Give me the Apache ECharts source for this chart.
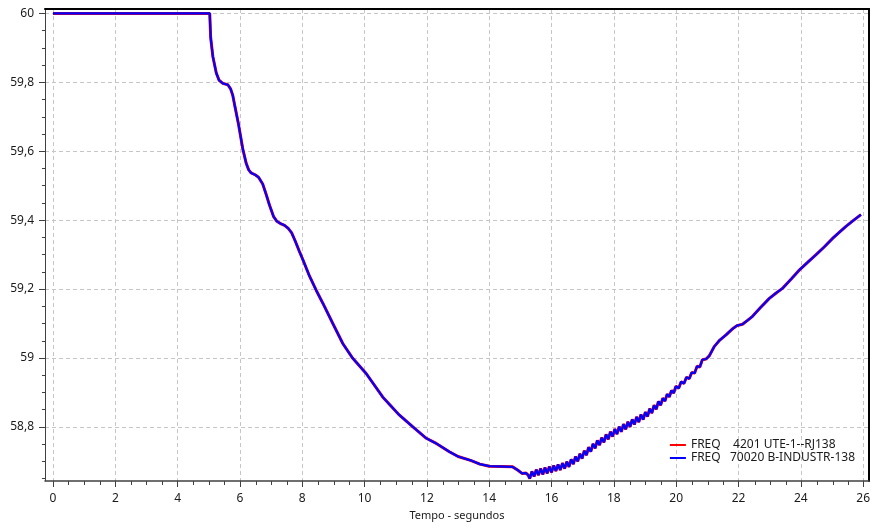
<!DOCTYPE html>
<html>
<head>
<meta charset="utf-8">
<script src="https://cdn.jsdelivr.net/npm/echarts@6/dist/echarts.min.js"></script>
<style>
html,body{margin:0;padding:0;background:#fff;}
#chart{width:873px;height:528px;}
</style>
</head>
<body>
<div id="chart"></div>
<script>
// ---- data ----
const tempo = [
  0, 5.03, 5.06, 5.13, 5.24, 5.33, 5.45, 5.61, 5.70, 5.77, 5.85, 5.95, 6.09,
  6.20, 6.28, 6.36, 6.50, 6.60, 6.73, 6.84, 6.95, 7.08, 7.18, 7.30, 7.43, 7.55,
  7.66, 7.78, 7.90, 8.02, 8.23, 8.45, 8.66, 8.98, 9.30, 9.62, 10.05, 10.58,
  11.12, 11.55, 11.98, 12.30, 12.72, 13.00, 13.40, 13.70, 14.00, 14.75, 14.91,
  15.05, 15.18, 15.25,
  15.30, 15.37, 15.44, 15.51, 15.58, 15.65, 15.72, 15.79, 15.86, 15.93,
  16.00, 16.07, 16.14, 16.21, 16.28, 16.35, 16.42, 16.49, 16.56, 16.63,
  16.70, 16.77, 16.84, 16.91, 16.98, 17.05, 17.12, 17.19, 17.26, 17.33,
  17.40, 17.47, 17.54, 17.61, 17.68, 17.75, 17.82, 17.89, 17.96, 18.03,
  18.10, 18.17, 18.24, 18.31, 18.38, 18.45, 18.52, 18.59, 18.66, 18.73,
  18.80, 18.87, 18.94, 19.01, 19.08, 19.15, 19.22, 19.29, 19.36, 19.43,
  19.50, 19.57, 19.64, 19.71, 19.78, 19.85, 19.92, 19.99,
  20.08, 20.16, 20.25, 20.33, 20.42, 20.50, 20.59, 20.67, 20.76, 20.84,
  20.96, 21.06, 21.22, 21.40, 21.60, 21.80, 21.95, 22.13, 22.30, 22.45, 22.70,
  22.99, 23.20, 23.41, 23.70, 23.95, 24.20, 24.48, 24.75, 25.02, 25.25, 25.45,
  25.70, 25.93
];
const freq = [
  60, 60, 59.93, 59.875, 59.827, 59.806, 59.797, 59.793, 59.781, 59.762, 59.725, 59.68, 59.607,
  59.565, 59.546, 59.537, 59.531, 59.524, 59.505, 59.475, 59.443, 59.410, 59.397, 59.390, 59.385, 59.376,
  59.363, 59.338, 59.311, 59.285, 59.238, 59.196, 59.159, 59.100, 59.042, 58.999, 58.955, 58.887,
  58.834, 58.800, 58.767, 58.752, 58.728, 58.714, 58.703, 58.692, 58.686, 58.684, 58.675,
  58.665, 58.666, 58.660,
  58.650, 58.671, 58.656, 58.676, 58.660, 58.679, 58.662, 58.682, 58.665, 58.685,
  58.668, 58.688, 58.672, 58.691, 58.675, 58.695, 58.679, 58.699, 58.684, 58.706,
  58.692, 58.714, 58.700, 58.722, 58.708, 58.731, 58.718, 58.741, 58.728, 58.751,
  58.738, 58.761, 58.747, 58.769, 58.755, 58.778, 58.764, 58.786, 58.772, 58.794,
  58.779, 58.801, 58.786, 58.808, 58.793, 58.815, 58.800, 58.822, 58.807, 58.829,
  58.814, 58.836, 58.821, 58.843, 58.830, 58.853, 58.840, 58.863, 58.851, 58.874,
  58.863, 58.883, 58.875, 58.895, 58.887, 58.906, 58.898, 58.918,
  58.912, 58.931, 58.926, 58.944, 58.940, 58.958, 58.956, 58.976, 58.974, 58.995,
  58.997, 59.006, 59.033, 59.052, 59.067, 59.084, 59.094, 59.098, 59.110, 59.121, 59.146,
  59.173, 59.188, 59.202, 59.230, 59.255, 59.276, 59.299, 59.322, 59.347, 59.366, 59.382,
  59.400, 59.416
];
const seriesNames = ['FREQ    4201 UTE-1--RJ138', 'FREQ   70020 B-INDUSTR-138'];
const seriesColors = ['#ff0000', '#0000ff'];
const xMajorTicks = [0, 2, 4, 6, 8, 10, 12, 14, 16, 18, 20, 22, 24, 26];
const xMinorTicks = [0.5, 1, 1.5, 2.5, 3, 3.5, 4.5, 5, 5.5, 6.5, 7, 7.5, 8.5, 9, 9.5,
  10.5, 11, 11.5, 12.5, 13, 13.5, 14.5, 15, 15.5, 16.5, 17, 17.5, 18.5, 19, 19.5,
  20.5, 21, 21.5, 22.5, 23, 23.5, 24.5, 25, 25.5];
const yMajorTicks = [58.8, 59, 59.2, 59.4, 59.6, 59.8, 60];
const yMinorTicks = [58.65, 58.7, 58.75, 58.85, 58.9, 58.95, 59.05, 59.1, 59.15,
  59.25, 59.3, 59.35, 59.45, 59.5, 59.55, 59.65, 59.7, 59.75, 59.85, 59.9, 59.95];
const xName = 'Tempo - segundos';

// ---- chart ----
const X_MIN = -0.257, X_MAX = 26.19, Y_MIN = 58.643, Y_MAX = 60.0128;
const FONT = 'Noto Sans';
const pts = tempo.map((t, i) => [t, freq[i]]);
const gridBox = {left: 45, right: 3, top: 9, bottom: 47};
const chart = echarts.init(document.getElementById('chart'), null, {renderer: 'canvas'});
const gridLine = {show: true, lineStyle: {color: '#c6c6c6', width: 1, type: [4, 3]}};
const option = {
  animation: false,
  backgroundColor: '#fff',
  textStyle: {fontFamily: FONT},
  grid: [Object.assign({}, gridBox), Object.assign({}, gridBox)],
  legend: {
    orient: 'vertical', right: 18, bottom: 64, padding: 0, itemGap: 1,
    itemWidth: 16, itemHeight: 14,
    textStyle: {fontFamily: FONT, fontSize: 12, color: '#1a1a1a', padding: [0, 0, 0, 0]},
    data: seriesNames.map(n => ({name: n, icon: 'path://M0,6 L16,6 L16,8 L0,8 Z'}))
  },
  xAxis: [
    {
      gridIndex: 0, type: 'value', position: 'bottom', min: X_MIN, max: X_MAX,
      name: xName, nameLocation: 'middle', nameGap: 29,
      nameTextStyle: {fontFamily: FONT, fontSize: 11, color: '#1a1a1a'},
      axisLine: {show: true, onZero: false, lineStyle: {color: '#404040', width: 1.5}},
      axisTick: {show: true, customValues: xMajorTicks, length: 6, lineStyle: {color: '#404040', width: 1}},
      axisLabel: {customValues: xMajorTicks, margin: 12, fontFamily: FONT, fontSize: 12, color: '#1a1a1a'},
      splitLine: gridLine
    },
    {
      gridIndex: 0, type: 'value', position: 'top', min: X_MIN, max: X_MAX,
      axisLine: {show: true, onZero: false, lineStyle: {color: '#000', width: 2}},
      axisTick: {show: false}, axisLabel: {show: false}, splitLine: {show: false}
    },
    {
      gridIndex: 1, type: 'value', position: 'bottom', min: X_MIN, max: X_MAX,
      axisLine: {show: false, onZero: false},
      axisTick: {show: true, customValues: xMinorTicks, length: 4, lineStyle: {color: '#404040', width: 1}},
      axisLabel: {show: false}, splitLine: {show: false}
    }
  ],
  yAxis: [
    {
      gridIndex: 0, type: 'value', position: 'left', min: Y_MIN, max: Y_MAX,
      axisLine: {show: true, onZero: false, lineStyle: {color: '#404040', width: 1}},
      axisTick: {show: true, customValues: yMajorTicks, length: 6, lineStyle: {color: '#404040', width: 1}},
      axisLabel: {customValues: yMajorTicks, margin: 11, fontFamily: FONT, fontSize: 12, color: '#1a1a1a',
        formatter: v => String(Math.round(v * 10) / 10).replace('.', ',')},
      splitLine: gridLine
    },
    {
      gridIndex: 0, type: 'value', position: 'right', min: Y_MIN, max: Y_MAX,
      axisLine: {show: true, onZero: false, lineStyle: {color: '#000', width: 2}},
      axisTick: {show: false}, axisLabel: {show: false}, splitLine: {show: false}
    },
    {
      gridIndex: 1, type: 'value', position: 'left', min: Y_MIN, max: Y_MAX,
      axisLine: {show: false, onZero: false},
      axisTick: {show: true, customValues: yMinorTicks, length: 3, lineStyle: {color: '#404040', width: 1}},
      axisLabel: {show: false}, splitLine: {show: false}
    }
  ],
  series: seriesNames.map((n, i) => ({
    name: n, type: 'line', xAxisIndex: 0, yAxisIndex: 0,
    data: pts, symbol: 'none', smooth: false,
    color: seriesColors[i],
    lineStyle: {color: seriesColors[i], width: i === 0 ? 3 : 2.2},
    z: 3 + i
  }))
};
chart.setOption(option);
</script>
</body>
</html>
